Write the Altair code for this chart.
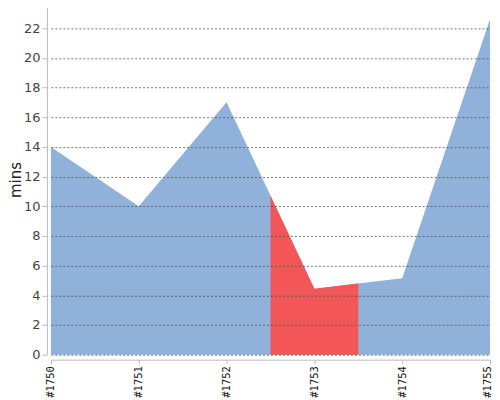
import altair as alt
import numpy as np
import pandas as pd

labels = ["#1750", "#1751", "#1752", "#1753", "#1754", "#1755"]
values = [14.0, 10.0, 17.0, 4.45, 5.15, 22.6]
y_ticks = [0, 2, 4, 6, 8, 10, 12, 14, 16, 18, 20, 22]
highlight = [2.5, 3.5]  # band in index units

idx = list(range(len(labels)))
df = pd.DataFrame({"i": idx, "v": values})

# red band: same line, restricted to the highlight band
band_x = [highlight[0]] + [i for i in idx if highlight[0] < i < highlight[1]] + [highlight[1]]
band_y = list(np.interp(band_x, idx, values))
dr = pd.DataFrame({"i": band_x, "v": band_y})

label_expr = "[" + ",".join("'%s'" % l for l in labels) + "][datum.value]"
last = idx[-1]

xaxis = alt.Axis(values=idx, labelExpr=label_expr, labelAngle=270,
                 labelFont="DejaVu Sans Mono", labelFontSize=10.5,
                 labelColor="#111", labelAlign="right", labelBaseline="middle",
                 labelOffset={"condition": {"test": "datum.value == %d" % last, "value": -3},
                              "value": 0},
                 grid=False, domainColor="#bbb", tickColor="#bbb",
                 tickSize=4, offset=5, title=None, labelPadding=2,
                 labelOverlap=False, labelBound=False, labelFlush=False)
yaxis = alt.Axis(values=y_ticks, title="mins",
                 titleFont="DejaVu Sans", titleFontSize=15, titleFontWeight="normal",
                 titleColor="#222", titlePadding=0,
                 labelFont="DejaVu Sans", labelFontSize=13, labelColor="#444",
                 labelOverlap=False, labelBound=False, labelFlush=False,
                 domainColor="#bbb", tickColor="#bbb", tickSize=5, offset=4,
                 grid=True, gridColor="#555", gridDash=[2, 2], gridOpacity=0.8,
                 gridWidth=1, zindex=1, labelPadding=2)
xscale = alt.Scale(domain=[0, 5], nice=False, zero=False)
yscale = alt.Scale(domain=[0, 23.6], nice=False)

blue = alt.Chart(df).mark_area(color="#8fb1da", opacity=1).encode(
    x=alt.X("i:Q", scale=xscale, axis=xaxis),
    y=alt.Y("v:Q", scale=yscale, axis=yaxis))
red = alt.Chart(dr).mark_area(color="#f25656", opacity=1).encode(
    x=alt.X("i:Q", scale=xscale, axis=xaxis),
    y=alt.Y("v:Q", scale=yscale, axis=yaxis))

chart = alt.layer(blue, red).properties(
    width=440, height=351,
    autosize=alt.AutoSizeParams(type="none"),
    padding={"left": 43, "top": -4, "right": 2, "bottom": 48},
).configure_view(stroke=None)

chart.save("out.html", embed_options={"renderer": "svg", "actions": False})
